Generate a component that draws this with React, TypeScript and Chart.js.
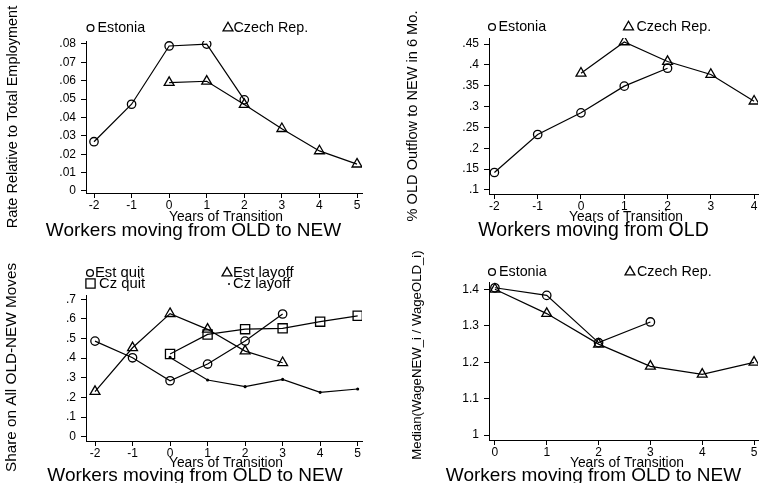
import React, { useEffect, useRef } from "react";
import { Chart, registerables } from "chart.js";

Chart.register(...registerables);

const FONT = "'Liberation Sans', Arial, Helvetica, sans-serif";

// ---------- Panel 1: OLD -> NEW rate relative to total employment ----------
const p1EstoniaYears = [-2, -1, 0, 1, 2];
const p1EstoniaValues = [0.0268, 0.0472, 0.0789, 0.0799, 0.0496];
const p1CzechYears = [0, 1, 2, 3, 4, 5];
const p1CzechValues = [0.059, 0.0597, 0.047, 0.0339, 0.0218, 0.0146];
const p1XTicks = [-2, -1, 0, 1, 2, 3, 4, 5];
const p1YTicks = [0, 0.01, 0.02, 0.03, 0.04, 0.05, 0.06, 0.07, 0.08];
const p1YTickLabels = ["0", ".01", ".02", ".03", ".04", ".05", ".06", ".07", ".08"];

// ---------- Panel 2: % OLD outflow to NEW in 6 months ----------
const p2EstoniaYears = [-2, -1, 0, 1, 2];
const p2EstoniaValues = [0.142, 0.233, 0.285, 0.349, 0.392];
const p2CzechYears = [0, 1, 2, 3, 4];
const p2CzechValues = [0.38, 0.455, 0.408, 0.377, 0.313];
const p2XTicks = [-2, -1, 0, 1, 2, 3, 4];
const p2YTicks = [0.1, 0.15, 0.2, 0.25, 0.3, 0.35, 0.4, 0.45];
const p2YTickLabels = [".1", ".15", ".2", ".25", ".3", ".35", ".4", ".45"];

// ---------- Panel 3: share on all OLD-NEW moves ----------
const p3EstQuitYears = [-2, -1, 0, 1, 2, 3];
const p3EstQuitValues = [0.487, 0.402, 0.285, 0.37, 0.487, 0.625];
const p3EstLayoffYears = [-2, -1, 0, 1, 2, 3];
const p3EstLayoffValues = [0.23, 0.453, 0.627, 0.547, 0.436, 0.377];
const p3CzQuitYears = [0, 1, 2, 3, 4, 5];
const p3CzQuitValues = [0.421, 0.521, 0.548, 0.552, 0.586, 0.616];
const p3CzLayoffYears = [0, 1, 2, 3, 4, 5];
const p3CzLayoffValues = [0.404, 0.289, 0.255, 0.292, 0.226, 0.243];
const p3XTicks = [-2, -1, 0, 1, 2, 3, 4, 5];
const p3YTicks = [0, 0.1, 0.2, 0.3, 0.4, 0.5, 0.6, 0.7];
const p3YTickLabels = ["0", ".1", ".2", ".3", ".4", ".5", ".6", ".7"];

// ---------- Panel 4: median wage ratio NEW / OLD ----------
const p4EstoniaYears = [0, 1, 2, 3];
const p4EstoniaValues = [1.405, 1.384, 1.254, 1.311];
const p4CzechYears = [0, 1, 2, 3, 4, 5];
const p4CzechValues = [1.401, 1.334, 1.25, 1.189, 1.167, 1.2];
const p4XTicks = [0, 1, 2, 3, 4, 5];
const p4YTicks = [1, 1.1, 1.2, 1.3, 1.4];
const p4YTickLabels = ["1", "1.1", "1.2", "1.3", "1.4"];

const X_TITLE = "Years of Transition";

type MarkerKind = "circle" | "triangle" | "square" | "dot";

const MARKER_STYLE: Record<MarkerKind, { pointStyle: string; radius: number; fill: string }> = {
  circle: { pointStyle: "circle", radius: 4.2, fill: "rgba(0,0,0,0)" },
  triangle: { pointStyle: "triangle", radius: 5.7, fill: "rgba(0,0,0,0)" },
  square: { pointStyle: "rect", radius: 6.5, fill: "rgba(0,0,0,0)" },
  dot: { pointStyle: "circle", radius: 0.9, fill: "#000" },
};

function series(label: string, xs: number[], ys: number[], marker: MarkerKind) {
  const m = MARKER_STYLE[marker];
  return {
    label,
    data: xs.map((x, i) => ({ x, y: ys[i] })),
    borderColor: "#000",
    borderWidth: 1.2,
    fill: false,
    tension: 0,
    pointStyle: m.pointStyle,
    pointRadius: m.radius,
    pointBorderColor: "#000",
    pointBorderWidth: 1.3,
    pointBackgroundColor: m.fill,
    pointHoverRadius: m.radius,
  };
}

function drawMarker(ctx: CanvasRenderingContext2D, kind: MarkerKind, x: number, y: number) {
  const r = MARKER_STYLE[kind].radius;
  ctx.save();
  ctx.strokeStyle = "#000";
  ctx.fillStyle = "#000";
  ctx.lineWidth = 1.3;
  ctx.beginPath();
  if (kind === "circle") {
    ctx.arc(x, y, r - 0.8, 0, Math.PI * 2);
    ctx.stroke();
  } else if (kind === "triangle") {
    let a = 0;
    ctx.moveTo(x + Math.sin(a) * r, y - Math.cos(a) * r);
    a += (2 * Math.PI) / 3;
    ctx.lineTo(x + Math.sin(a) * r, y - Math.cos(a) * r);
    a += (2 * Math.PI) / 3;
    ctx.lineTo(x + Math.sin(a) * r, y - Math.cos(a) * r);
    ctx.closePath();
    ctx.stroke();
  } else if (kind === "square") {
    const s = r * Math.SQRT1_2;
    ctx.rect(x - s, y - s, 2 * s, 2 * s);
    ctx.stroke();
  } else {
    ctx.arc(x, y, 1, 0, Math.PI * 2);
    ctx.fill();
  }
  ctx.restore();
}

type TextItem = { text: string; x: number; y: number; size: number; rotate?: boolean; align?: CanvasTextAlign; baseline?: CanvasTextBaseline };
type LegendItem = { kind: MarkerKind; mx: number; my: number; tx: number; label: string; size: number };

const panelTextPlugin = {
  id: "panelText",
  afterDraw(chart: any, _args: any, opts: any) {
    const ctx: CanvasRenderingContext2D = chart.ctx;
    ctx.save();
    ctx.fillStyle = "#000";
    (opts.texts || []).forEach((t: TextItem) => {
      ctx.save();
      ctx.font = `${t.size}px ${FONT}`;
      ctx.textAlign = t.align || "center";
      ctx.textBaseline = t.baseline || "alphabetic";
      ctx.translate(t.x, t.y);
      if (t.rotate) ctx.rotate(-Math.PI / 2);
      ctx.fillText(t.text, 0, 0);
      ctx.restore();
    });
    (opts.legend || []).forEach((l: LegendItem) => {
      drawMarker(ctx, l.kind, l.mx, l.my);
      ctx.save();
      ctx.font = `${l.size}px ${FONT}`;
      ctx.textAlign = "left";
      ctx.textBaseline = "middle";
      ctx.fillText(l.label, l.tx, l.my);
      ctx.restore();
    });
    ctx.restore();
  },
};

type Area = { left: number; top: number; right: number; bottom: number };

type PanelSpec = {
  width: number;
  height: number;
  area: Area;
  xMin: number;
  xMax: number;
  yMin: number;
  yMax: number;
  xTicks: number[];
  yTicks: number[];
  yTickLabels: string[];
  datasets: any[];
  texts: TextItem[];
  legend: LegendItem[];
};

function buildConfig(p: PanelSpec): any {
  const tickFont = { family: FONT, size: 12 };
  return {
    type: "line",
    data: { datasets: p.datasets },
    plugins: [panelTextPlugin],
    options: {
      responsive: false,
      animation: false,
      devicePixelRatio: 1,
      events: [],
      layout: {
        padding: { left: 0, top: p.area.top, right: p.width - p.area.right, bottom: 0 },
      },
      plugins: {
        legend: { display: false },
        tooltip: { enabled: false },
        title: { display: false },
        panelText: { texts: p.texts, legend: p.legend },
      },
      scales: {
        x: {
          type: "linear",
          position: "bottom",
          min: p.xMin,
          max: p.xMax,
          afterBuildTicks: (axis: any) => {
            axis.ticks = p.xTicks.map((v) => ({ value: v }));
          },
          afterFit: (axis: any) => {
            axis.height = p.height - p.area.bottom;
          },
          grid: { drawOnChartArea: false, drawTicks: true, tickLength: 5, color: "#000", lineWidth: 1 },
          border: { display: true, color: "#000", width: 1 },
          ticks: {
            color: "#000",
            font: tickFont,
            padding: 0,
            autoSkip: false,
            maxRotation: 0,
            minRotation: 0,
            callback: (v: number) => String(v),
          },
        },
        y: {
          type: "linear",
          position: "left",
          min: p.yMin,
          max: p.yMax,
          afterBuildTicks: (axis: any) => {
            axis.ticks = p.yTicks.map((v) => ({ value: v }));
          },
          afterFit: (axis: any) => {
            axis.width = p.area.left;
          },
          grid: { drawOnChartArea: false, drawTicks: true, tickLength: 5, color: "#000", lineWidth: 1 },
          border: { display: true, color: "#000", width: 1 },
          ticks: {
            color: "#000",
            font: tickFont,
            padding: 5,
            autoSkip: false,
            callback: (_v: number, i: number) => p.yTickLabels[i],
          },
        },
      },
    },
  };
}

const panel1: PanelSpec = {
  width: 380,
  height: 240,
  area: { left: 86, top: 41, right: 362, bottom: 193 },
  xMin: -2.213,
  xMax: 5.133,
  yMin: -0.0011,
  yMax: 0.0816,
  xTicks: p1XTicks,
  yTicks: p1YTicks,
  yTickLabels: p1YTickLabels,
  datasets: [
    series("Estonia", p1EstoniaYears, p1EstoniaValues, "circle"),
    series("Czech Rep.", p1CzechYears, p1CzechValues, "triangle"),
  ],
  texts: [
    { text: "Rate Relative to Total Employment", x: 13, y: 117, size: 14.5, rotate: true, baseline: "middle" },
    { text: X_TITLE, x: 226, y: 221, size: 13.8 },
    { text: "Workers moving from OLD to NEW", x: 193.5, y: 236, size: 19 },
  ],
  legend: [
    { kind: "circle", mx: 90.5, my: 28, tx: 97.5, label: "Estonia", size: 14.3 },
    { kind: "triangle", mx: 228, my: 28, tx: 233.5, label: "Czech Rep.", size: 14.3 },
  ],
};

const panel2: PanelSpec = {
  width: 385,
  height: 240,
  area: { left: 109, top: 38, right: 382, bottom: 194 },
  xMin: -2.125,
  xMax: 4.09,
  yMin: 0.0904,
  yMax: 0.4644,
  xTicks: p2XTicks,
  yTicks: p2YTicks,
  yTickLabels: p2YTickLabels,
  datasets: [
    series("Estonia", p2EstoniaYears, p2EstoniaValues, "circle"),
    series("Czech Rep.", p2CzechYears, p2CzechValues, "triangle"),
  ],
  texts: [
    { text: "% OLD Outflow to NEW in 6 Mo.", x: 33, y: 116, size: 14.6, rotate: true, baseline: "middle" },
    { text: X_TITLE, x: 246, y: 221, size: 13.8 },
    { text: "Workers moving from OLD", x: 213.5, y: 236, size: 19.5 },
  ],
  legend: [
    { kind: "circle", mx: 112, my: 27, tx: 118.5, label: "Estonia", size: 14.3 },
    { kind: "triangle", mx: 248.5, my: 27, tx: 256.5, label: "Czech Rep.", size: 14.3 },
  ],
};

const panel3: PanelSpec = {
  width: 380,
  height: 243,
  area: { left: 86, top: 55, right: 362, bottom: 201 },
  xMin: -2.24,
  xMax: 5.115,
  yMin: -0.0219,
  yMax: 0.7219,
  xTicks: p3XTicks,
  yTicks: p3YTicks,
  yTickLabels: p3YTickLabels,
  datasets: [
    series("Est quit", p3EstQuitYears, p3EstQuitValues, "circle"),
    series("Est layoff", p3EstLayoffYears, p3EstLayoffValues, "triangle"),
    series("Cz quit", p3CzQuitYears, p3CzQuitValues, "square"),
    series("Cz layoff", p3CzLayoffYears, p3CzLayoffValues, "dot"),
  ],
  texts: [
    { text: "Share on All OLD-NEW Moves", x: 12, y: 127.5, size: 15.3, rotate: true, baseline: "middle" },
    { text: X_TITLE, x: 226, y: 226.5, size: 13.8 },
    { text: "Workers moving from OLD to NEW", x: 195, y: 240.5, size: 19 },
  ],
  legend: [
    { kind: "circle", mx: 90, my: 33, tx: 95, label: "Est quit", size: 14.8 },
    { kind: "square", mx: 90.5, my: 43.5, tx: 99, label: "Cz quit", size: 14.8 },
    { kind: "triangle", mx: 227, my: 33, tx: 233, label: "Est layoff", size: 14.8 },
    { kind: "dot", mx: 229, my: 44, tx: 233, label: "Cz layoff", size: 14.8 },
  ],
};

const panel4: PanelSpec = {
  width: 385,
  height: 243,
  area: { left: 109, top: 42, right: 383, bottom: 200 },
  xMin: -0.114,
  xMax: 5.076,
  yMin: 0.9863,
  yMax: 1.4209,
  xTicks: p4XTicks,
  yTicks: p4YTicks,
  yTickLabels: p4YTickLabels,
  datasets: [
    series("Estonia", p4EstoniaYears, p4EstoniaValues, "circle"),
    series("Czech Rep.", p4CzechYears, p4CzechValues, "triangle"),
  ],
  texts: [
    { text: "Median(WageNEW_i / WageOLD_i)", x: 37, y: 115, size: 13.2, rotate: true, baseline: "middle" },
    { text: X_TITLE, x: 247, y: 226.5, size: 13.8 },
    { text: "Workers moving from OLD to NEW", x: 213.5, y: 240.5, size: 19 },
  ],
  legend: [
    { kind: "circle", mx: 112, my: 32, tx: 119, label: "Estonia", size: 14.3 },
    { kind: "triangle", mx: 250, my: 32, tx: 257, label: "Czech Rep.", size: 14.3 },
  ],
};

function Panel({ spec, left, top }: { spec: PanelSpec; left: number; top: number }) {
  const ref = useRef<HTMLCanvasElement | null>(null);
  useEffect(() => {
    if (!ref.current) return;
    const chart = new Chart(ref.current, buildConfig(spec));
    return () => chart.destroy();
  }, [spec]);
  return (
    <div style={{ position: "absolute", left, top, width: spec.width, height: spec.height }}>
      <canvas ref={ref} width={spec.width} height={spec.height} style={{ display: "block" }} />
    </div>
  );
}

export default function App() {
  return (
    <div style={{ position: "absolute", left: 0, top: 0, width: 765, height: 483, background: "#fff", overflow: "hidden" }}>
      <Panel spec={panel1} left={0} top={0} />
      <Panel spec={panel2} left={380} top={0} />
      <Panel spec={panel3} left={0} top={240} />
      <Panel spec={panel4} left={380} top={240} />
    </div>
  );
}
